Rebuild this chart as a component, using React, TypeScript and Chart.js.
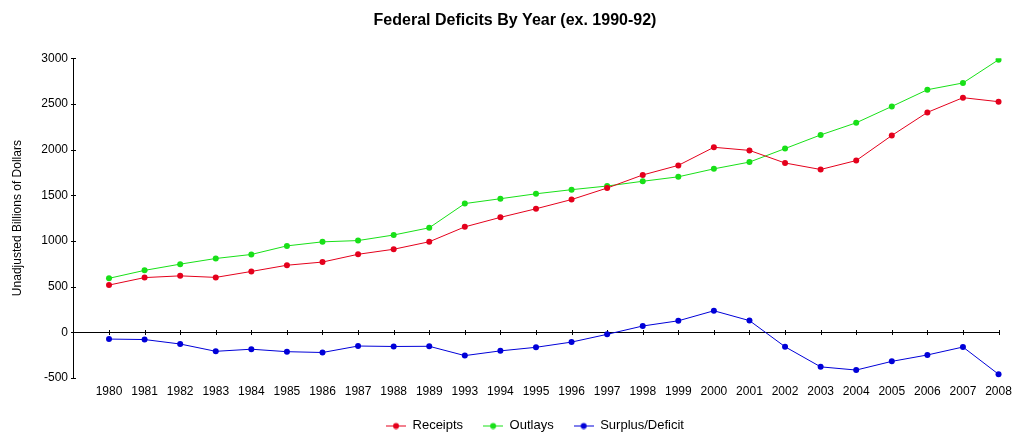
import React, { useEffect, useRef } from "react";
import { Chart, registerables } from "chart.js";

Chart.register(...registerables);

const years = [
  "1980", "1981", "1982", "1983", "1984", "1985", "1986", "1987", "1988", "1989",
  "1993", "1994", "1995", "1996", "1997", "1998", "1999", "2000", "2001", "2002",
  "2003", "2004", "2005", "2006", "2007", "2008",
];
const receipts = [
  517, 599, 618, 601, 666, 734, 769, 854, 909, 991,
  1154, 1258, 1352, 1453, 1579, 1722, 1827, 2025, 1991, 1853,
  1782, 1880, 2154, 2407, 2568, 2524,
];
const outlays = [
  591, 678, 746, 808, 852, 946, 990, 1004, 1065, 1144,
  1409, 1462, 1516, 1561, 1601, 1653, 1702, 1789, 1863, 2011,
  2160, 2293, 2472, 2655, 2729, 2983,
];
const surplus = [
  -74, -79, -128, -208, -185, -212, -221, -150, -155, -153,
  -255, -203, -164, -107, -22, 69, 126, 236, 128, -158,
  -378, -413, -318, -248, -161, -459,
];
const yTicks = [-500, 0, 500, 1000, 1500, 2000, 2500, 3000];

const FONT = "'Liberation Sans', Arial, sans-serif";
const RED = "#e4001c";
const GREEN = "#18e018";
const BLUE = "#0000d8";
const COLORS = [RED, GREEN, BLUE];

function legendIcon(color: string) {
  const c = document.createElement("canvas");
  c.width = 20;
  c.height = 8;
  const ctx = c.getContext("2d")!;
  ctx.strokeStyle = color;
  ctx.lineWidth = 1;
  ctx.beginPath();
  ctx.moveTo(0, 4.5);
  ctx.lineTo(20, 4.5);
  ctx.stroke();
  ctx.fillStyle = color;
  ctx.beginPath();
  ctx.arc(10, 4.5, 3, 0, Math.PI * 2);
  ctx.fill();
  return c;
}

const axisPlugin = {
  id: "zeroAxis",
  afterLayout(chart: any) {
    if (chart.legend) {
      chart.legend.left += 20;
      chart.legend.right += 20;
    }
  },
  beforeDatasetsDraw(chart: any) {
    const { ctx, scales } = chart;
    const x = scales.x;
    const y = scales.y;
    const y0 = Math.round(y.getPixelForValue(0)) + 0.5;
    ctx.save();
    ctx.strokeStyle = "#000";
    ctx.lineWidth = 1;
    ctx.beginPath();
    ctx.moveTo(x.left, y0);
    ctx.lineTo(Math.round(x.getPixelForValue(years.length - 1)) + 0.5, y0);
    years.forEach((_, i) => {
      const px = Math.round(x.getPixelForValue(i)) + 0.5;
      ctx.moveTo(px, y0 - 2.5);
      ctx.lineTo(px, y0 + 2.5);
    });
    yTicks.forEach((v) => {
      const py = Math.round(y.getPixelForValue(v)) + 0.5;
      ctx.moveTo(x.left - 2, py);
      ctx.lineTo(x.left + 3, py);
    });
    ctx.stroke();
    ctx.restore();
  },
};

function makeDataset(label: string, values: number[], color: string) {
  return {
    label,
    data: values.map((v, i) => ({ x: i, y: v })),
    borderColor: color,
    backgroundColor: color,
    pointBackgroundColor: color,
    pointBorderColor: color,
    borderWidth: 1,
    pointRadius: 3,
    pointBorderWidth: 0,
    pointHoverRadius: 3,
    pointStyle: "circle",
    tension: 0,
  };
}

export default function App() {
  const ref = useRef<HTMLCanvasElement | null>(null);
  useEffect(() => {
    if (!ref.current) return;
    const icons = COLORS.map(legendIcon);
    const chart = new Chart(ref.current, {
      type: "line",
      data: {
        datasets: [
          makeDataset("Receipts", receipts, RED),
          makeDataset("Outlays", outlays, GREEN),
          makeDataset("Surplus/Deficit", surplus, BLUE),
        ] as any,
      },
      options: {
        animation: false,
        responsive: false,
        events: [],
        layout: { padding: { left: 0, right: 0, top: 0, bottom: 5 } },
        scales: {
          x: {
            type: "linear",
            min: -1.012,
            max: 25.8,
            afterBuildTicks: (scale: any) => {
              scale.ticks = years.map((_, i) => ({ value: i }));
            },
            afterFit: (scale: any) => {
              scale.height = 21;
            },
            grid: { display: false, drawTicks: false },
            border: { display: false },
            ticks: {
              autoSkip: false,
              maxRotation: 0,
              minRotation: 0,
              padding: 6,
              color: "#000",
              font: { family: FONT, size: 12 },
              callback: (v: any) => years[v] ?? "",
            },
          },
          y: {
            type: "linear",
            min: -500,
            max: 3000,
            afterFit: (scale: any) => {
              scale.width = 73;
            },
            grid: { display: false, drawTicks: false },
            border: { display: true, color: "#000", width: 1 },
            ticks: {
              stepSize: 500,
              padding: 5,
              color: "#000",
              font: { family: FONT, size: 12 },
              callback: (v: any) => String(v),
            },
            title: {
              display: true,
              text: "Unadjusted Billions of Dollars",
              color: "#000",
              font: { family: FONT, size: 12 },
              padding: { top: 10, bottom: 0 },
            },
          },
        },
        plugins: {
          title: {
            display: true,
            text: "Federal Deficits By Year (ex. 1990-92)",
            color: "#000",
            font: { family: FONT, size: 16, weight: "bold" },
            padding: { top: 11, bottom: 28 },
          },
          legend: {
            display: true,
            position: "bottom",
            labels: {
              usePointStyle: true,
              pointStyleWidth: 20,
              padding: 20,
              color: "#000",
              font: { family: FONT, size: 13 },
              generateLabels: (c: any) => {
                const items = (Chart.defaults as any).plugins.legend.labels.generateLabels(c);
                items.forEach((it: any, i: number) => {
                  it.pointStyle = icons[i];
                  it.lineWidth = 0;
                });
                return items;
              },
            },
          },
          tooltip: { enabled: false },
        },
      },
      plugins: [axisPlugin],
    } as any);
    return () => chart.destroy();
  }, []);
  return (
    <div style={{ position: "fixed", left: 0, top: 0, width: 1030, height: 447, background: "#fff" }}>
      <canvas ref={ref} width={1030} height={447} style={{ display: "block" }} />
    </div>
  );
}
